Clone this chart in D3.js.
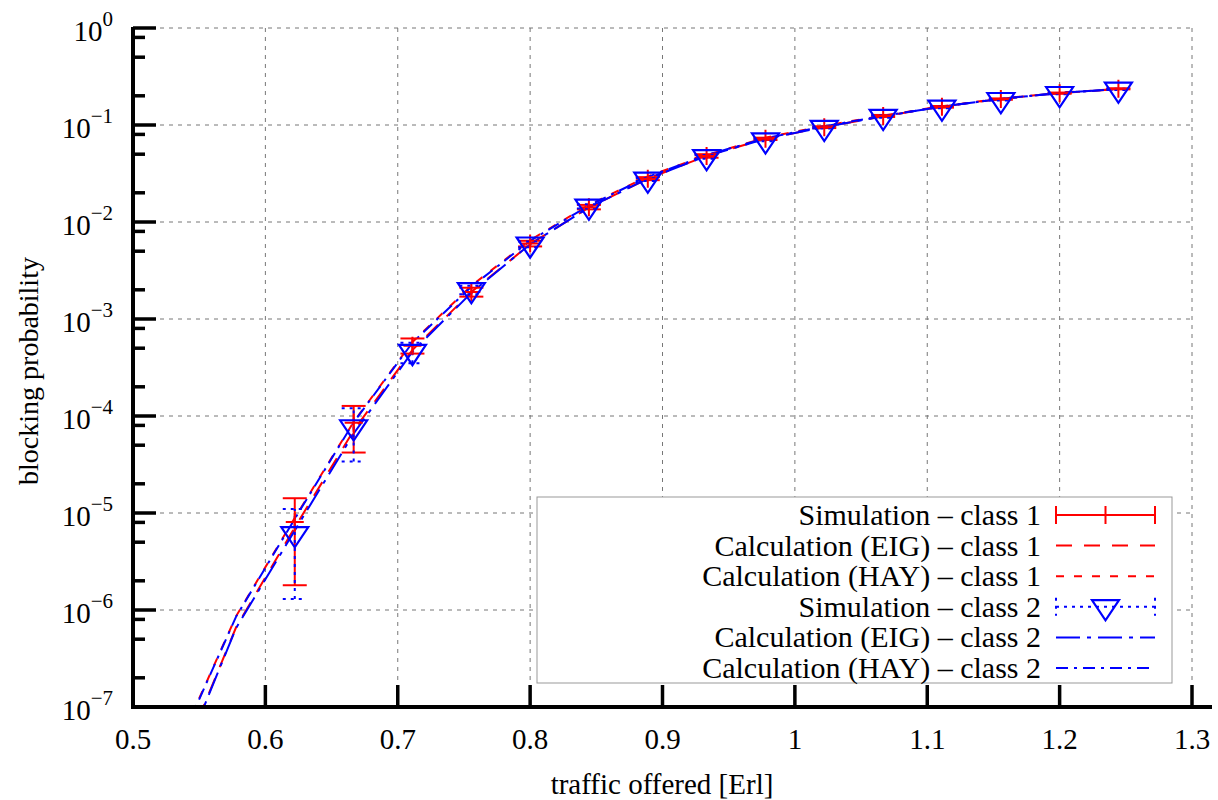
<!DOCTYPE html>
<html>
<head>
<meta charset="utf-8">
<script src="https://cdn.jsdelivr.net/npm/d3@7"></script>
<style>
  body { margin: 0; background: #fff; }
  svg { font-family: "Liberation Serif", "Times New Roman", serif; }
</style>
</head>
<body>
<svg id="chart" width="1218" height="800"></svg>
<script>
// traffic offered for simulation points
const simX = [0.6222, 0.6667, 0.7111, 0.7556, 0.8, 0.8444, 0.8889, 0.9333, 0.9778, 1.0222, 1.0667, 1.1111, 1.1556, 1.2, 1.2444];
// calculation curves start two steps earlier
const calcX = [0.5333, 0.5778].concat(simX);

const sim1 = [8.1e-6, 8.5e-5, 5.3e-4, 1.9e-3, 6.0e-3, 1.42e-2, 2.8e-2, 4.8e-2, 7.2e-2, 9.5e-2, 0.124, 0.154, 0.185, 0.213, 0.236];
const sim1Lo = [1.8e-6, 4.2e-5, 4.4e-4, 1.7e-3, 5.6e-3, 1.35e-2, 2.7e-2, 4.6e-2, 7.0e-2, 9.3e-2, 0.121, 0.151, 0.182, 0.210, 0.233];
const sim1Hi = [1.42e-5, 1.27e-4, 6.3e-4, 2.1e-3, 6.4e-3, 1.5e-2, 2.9e-2, 5.0e-2, 7.4e-2, 9.7e-2, 0.127, 0.157, 0.188, 0.216, 0.239];

const sim2 = [6.1e-6, 7.7e-5, 4.6e-4, 2.0e-3, 5.9e-3, 1.45e-2, 2.75e-2, 4.7e-2, 7.0e-2, 9.4e-2, 0.122, 0.152, 0.182, 0.210, 0.233];
const sim2Lo = [1.3e-6, 3.4e-5, 3.5e-4, 1.8e-3, 5.5e-3, 1.38e-2, 2.65e-2, 4.5e-2, 6.8e-2, 9.2e-2, 0.119, 0.149, 0.179, 0.207, 0.230];
const sim2Hi = [1.1e-5, 1.2e-4, 5.7e-4, 2.2e-3, 6.3e-3, 1.52e-2, 2.85e-2, 4.9e-2, 7.2e-2, 9.6e-2, 0.125, 0.155, 0.185, 0.213, 0.236];

const eig1 = [2.2e-8, 6.6e-7, 7.1e-6, 7.1e-5, 4.8e-4, 1.9e-3, 5.9e-3, 1.41e-2, 2.8e-2, 4.8e-2, 7.2e-2, 9.5e-2, 0.123, 0.155, 0.186, 0.214, 0.234];
const hay1 = [3.8e-8, 8.6e-7, 8.9e-6, 8.7e-5, 5.8e-4, 2.2e-3, 6.5e-3, 1.5e-2, 2.95e-2, 4.9e-2, 7.4e-2, 9.8e-2, 0.125, 0.156, 0.187, 0.215, 0.235];
const eig2 = [2.1e-8, 6.5e-7, 6.6e-6, 6.6e-5, 4.6e-4, 1.86e-3, 5.9e-3, 1.41e-2, 2.8e-2, 4.8e-2, 7.2e-2, 9.5e-2, 0.123, 0.155, 0.186, 0.214, 0.234];
const hay2 = [3.7e-8, 8.5e-7, 8.7e-6, 8.6e-5, 5.7e-4, 2.15e-3, 6.4e-3, 1.48e-2, 2.92e-2, 4.9e-2, 7.3e-2, 9.7e-2, 0.124, 0.155, 0.186, 0.214, 0.234];

const xTicks = [0.5, 0.6, 0.7, 0.8, 0.9, 1, 1.1, 1.2, 1.3];
const yExps = [0, -1, -2, -3, -4, -5, -6, -7];
const minorMult = [2, 5, 8];

const legendLabels = [
  "Simulation \u2013 class 1",
  "Calculation (EIG) \u2013 class 1",
  "Calculation (HAY) \u2013 class 1",
  "Simulation \u2013 class 2",
  "Calculation (EIG) \u2013 class 2",
  "Calculation (HAY) \u2013 class 2"
];

const red = "#ff0000", blue = "#0000ff";
const dashEig1 = "16,12", dashHay1 = "8,10", dashSim2 = "3,5";
const dashEig2 = "24,7,4,7", dashHay2 = "12,6,3,6";

let svg = d3.select("#chart");
let pl = 133, pr = 1192, pt = 28, pb = 707;

let x = d3.scaleLinear().domain([0.5, 1.3]).range([pl, pr]);
let y = d3.scaleLog().domain([1e-7, 1]).range([pb, pt]);

svg.append("defs").append("clipPath").attr("id", "clip")
  .append("rect").attr("x", pl).attr("y", pt).attr("width", pr - pl).attr("height", pb - pt);

// grid
let grid = svg.append("g").attr("stroke", "#777").attr("stroke-width", 1).attr("stroke-dasharray", "4,5");
grid.selectAll(".gx").data(xTicks.slice(1)).enter().append("line")
  .attr("x1", d => x(d)).attr("x2", d => x(d)).attr("y1", pt).attr("y2", pb);
grid.selectAll(".gy").data(yExps.slice(0, -1)).enter().append("line")
  .attr("x1", pl).attr("x2", pr).attr("y1", d => y(Math.pow(10, d))).attr("y2", d => y(Math.pow(10, d)));

// calculation curves
let curves = [
  { v: eig1, color: red, dash: dashEig1 },
  { v: hay1, color: red, dash: dashHay1 },
  { v: eig2, color: blue, dash: dashEig2 },
  { v: hay2, color: blue, dash: dashHay2 }
];
let line = d3.line().x(d => x(d[0])).y(d => y(d[1]));
let plot = svg.append("g").attr("clip-path", "url(#clip)");
curves.forEach(c => {
  plot.append("path")
    .attr("d", line(calcX.map((xv, i) => [xv, c.v[i]])))
    .attr("fill", "none").attr("stroke", c.color).attr("stroke-width", 2)
    .attr("stroke-dasharray", c.dash);
});

// error bars
let cap = 12;
function errorBars(lo, hi, color, dash) {
  let g = plot.append("g").attr("stroke", color).attr("stroke-width", 2).attr("fill", "none");
  if (dash) g.attr("stroke-dasharray", dash);
  simX.forEach((xv, i) => {
    let px = x(xv);
    g.append("line").attr("x1", px).attr("x2", px).attr("y1", y(lo[i])).attr("y2", y(hi[i]));
    g.append("line").attr("x1", px - cap).attr("x2", px + cap).attr("y1", y(lo[i])).attr("y2", y(lo[i]));
    g.append("line").attr("x1", px - cap).attr("x2", px + cap).attr("y1", y(hi[i])).attr("y2", y(hi[i]));
  });
}
errorBars(sim1Lo, sim1Hi, red, null);
errorBars(sim2Lo, sim2Hi, blue, dashSim2);

// markers
function plus(g, px, py) {
  g.append("path").attr("d", `M${px - 9},${py}H${px + 9}M${px},${py - 9}V${py + 9}`)
    .attr("stroke", red).attr("stroke-width", 2).attr("fill", "none");
}
function triangle(g, px, py) {
  let h = 13.5;
  g.append("path").attr("d", `M${px - h},${py - h * 0.5}L${px + h},${py - h * 0.5}L${px},${py + h}Z`)
    .attr("stroke", blue).attr("stroke-width", 2.2).attr("fill", "none");
}
simX.forEach((xv, i) => plus(plot, x(xv), y(sim1[i])));
simX.forEach((xv, i) => triangle(plot, x(xv), y(sim2[i])));

// axes
let ax = svg.append("g").attr("stroke", "#000");
ax.append("line").attr("x1", pl).attr("x2", pl).attr("y1", pt - 1).attr("y2", pb + 2).attr("stroke-width", 4);
ax.append("line").attr("x1", pl - 2).attr("x2", 1212).attr("y1", pb).attr("y2", pb).attr("stroke-width", 4);
ax.selectAll(".xt").data(xTicks.slice(1)).enter().append("line")
  .attr("x1", d => x(d)).attr("x2", d => x(d)).attr("y1", pb).attr("y2", pb - 22).attr("stroke-width", 3.5);
ax.selectAll(".yt").data(yExps).enter().append("line")
  .attr("x1", pl).attr("x2", pl + 23).attr("y1", d => y(Math.pow(10, d))).attr("y2", d => y(Math.pow(10, d)))
  .attr("stroke-width", 3.5);
let minors = [];
yExps.slice(1).forEach(e => minorMult.forEach(m => minors.push(m * Math.pow(10, e))));
ax.selectAll(".ym").data(minors).enter().append("line")
  .attr("x1", pl).attr("x2", pl + 12).attr("y1", d => y(d)).attr("y2", d => y(d)).attr("stroke-width", 3.5);

// tick labels
svg.selectAll(".xl").data(xTicks).enter().append("text")
  .attr("x", d => x(d)).attr("y", 749).attr("text-anchor", "middle")
  .attr("font-size", 29).text(d => d3.format("")(d));

let yl = svg.selectAll(".yl").data(yExps).enter().append("text")
  .attr("x", 113).attr("y", d => y(Math.pow(10, d)) + 13).attr("text-anchor", "end").attr("font-size", 29);
yl.append("tspan").text("10");
yl.append("tspan").attr("dy", -15).attr("font-size", 21).text(d => d === 0 ? "0" : "\u2212" + (-d));

// axis titles
svg.append("text").attr("transform", "translate(38,371) rotate(-90)").attr("text-anchor", "middle")
  .attr("font-size", 28).text("blocking probability");
svg.append("text").attr("x", 662).attr("y", 794).attr("text-anchor", "middle")
  .attr("font-size", 29).text("traffic offered [Erl]");

// legend
let lg = svg.append("g");
lg.append("rect").attr("x", 537).attr("y", 497).attr("width", 635).attr("height", 186)
  .attr("fill", "#fff").attr("stroke", "#999").attr("stroke-width", 1);
let rowY = d => 515 + d * 30.6;
legendLabels.forEach((t, i) => {
  lg.append("text").attr("x", 1041).attr("y", rowY(i) + 10).attr("text-anchor", "end")
    .attr("font-size", 30).text(t);
});
let sx0 = 1056, sx1 = 1155, sxm = (sx0 + sx1) / 2;
// row 0: red error bar sample
lg.append("path").attr("d", `M${sx0},${rowY(0)}H${sx1}M${sx0},${rowY(0) - 9}V${rowY(0) + 9}M${sx1},${rowY(0) - 9}V${rowY(0) + 9}M${sxm},${rowY(0) - 9}V${rowY(0) + 9}`)
  .attr("stroke", red).attr("stroke-width", 2).attr("fill", "none");
[[1, red, dashEig1], [2, red, dashHay1], [4, blue, dashEig2], [5, blue, dashHay2]].forEach(r => {
  lg.append("line").attr("x1", sx0).attr("x2", sx1).attr("y1", rowY(r[0])).attr("y2", rowY(r[0]))
    .attr("stroke", r[1]).attr("stroke-width", 2).attr("stroke-dasharray", r[2]);
});
lg.append("path").attr("d", `M${sx0},${rowY(3)}H${sx1}M${sx0},${rowY(3) - 9}V${rowY(3) + 9}M${sx1},${rowY(3) - 9}V${rowY(3) + 9}`)
  .attr("stroke", blue).attr("stroke-width", 2).attr("fill", "none").attr("stroke-dasharray", dashSim2);
triangle(lg, sxm, rowY(3));
</script>
</body>
</html>
